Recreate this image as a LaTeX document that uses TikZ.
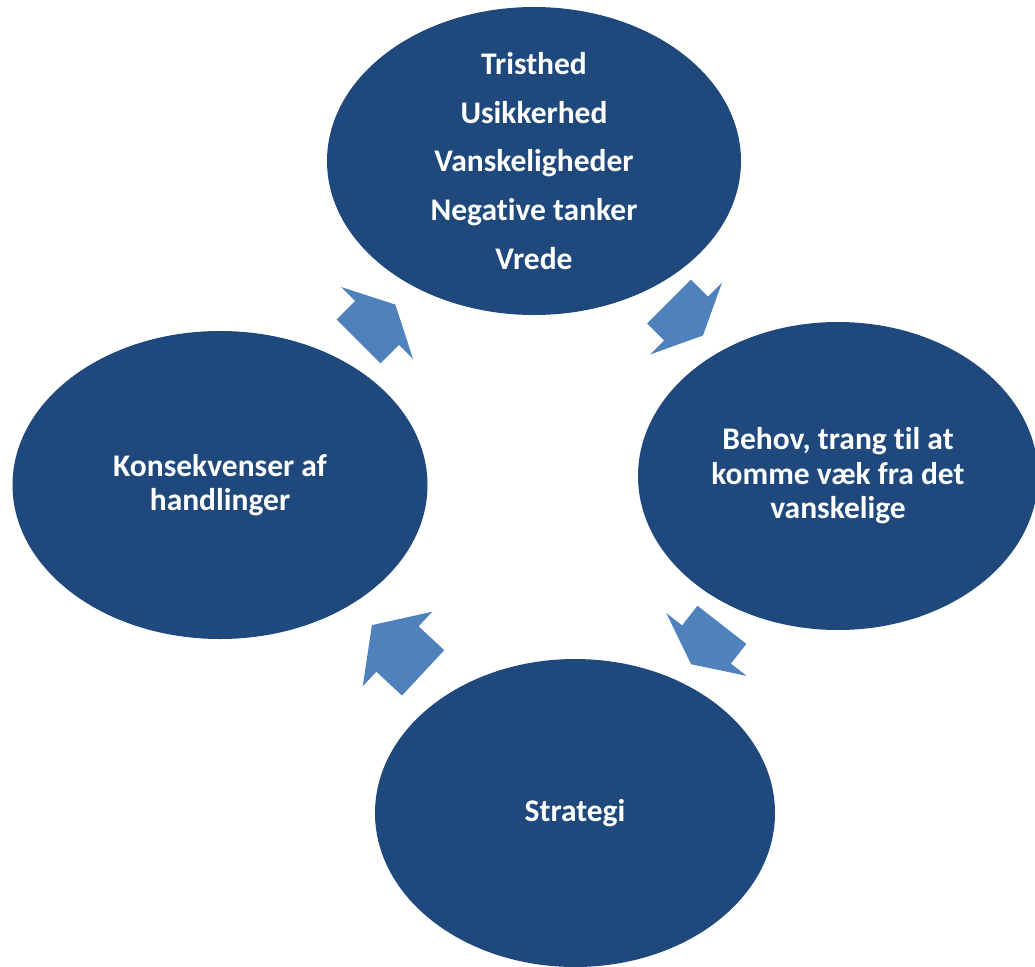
\documentclass[tikz,border=0pt]{standalone}
\usepackage{fontspec}
\setmainfont{Carlito}[Ligatures=NoCommon]
\usetikzlibrary{shapes.geometric,calc}

\definecolor{azuloscuro}{RGB}{31,73,125}
\definecolor{azulclaro}{RGB}{79,129,189}

\tikzset{
	elipse/.style={ellipse, fill=azuloscuro, inner sep=0pt, minimum width=#1, minimum height=308pt},
	texto/.style={text=white, align=center, font=\bfseries\fontsize{31.5}{34.5}\selectfont},
	pics/flecha/.style={code={
		\fill[azulclaro] (-#1,31) -- (0,31) -- (0,51) -- (#1,0) -- (0,-51) -- (0,-31) -- (-#1,-31) -- cycle;
	}}
}

\begin{document}
\begin{tikzpicture}[x=1pt, y=-1pt]
		\useasboundingbox (0,0) rectangle (1035,966);
		\clip (0,0) rectangle (1035,966);

		% Elipses del ciclo ------------------------------------------------------
		\node[elipse=414pt] (tristhed) at (534,161) {};
		\node[elipse=400pt] (behov) at (838,476) {};
		\node[elipse=400pt] (strategi) at (575,813) {};
		\node[elipse=415pt] (konsekvens) at (220,485) {};

		% Textos ---------------------------------------------------------------
		\node[texto, font=\bfseries\fontsize{31.5}{48.7}\selectfont] (t1) at (tristhed) {Tristhed\\Usikkerhed\\Vanskeligheder\\Negative tanker\\Vrede};
		\node[texto] (t2) at (behov) {Behov, trang til at\\komme væk fra det\\vanskelige};
		\node[texto] (t3) at (strategi) {Strategi};
		\node[texto] (t4) at (konsekvens) {Konsekvenser af\\handlinger};

		% Flechas entre elipses --------------------------------------------------
		\pic[rotate=-45] at ($(tristhed)!0.5!(behov)$) {flecha=24}; % arriba -> derecha
		\pic[rotate=-128] at ($(behov)!0.5!(strategi)$) {flecha=25}; % derecha -> abajo
		\pic[rotate=137] at ($(strategi)!0.5!(konsekvens)$) {flecha=35}; % abajo -> izquierda
		\pic[rotate=45] at ($(konsekvens)!0.5!(tristhed)$) {flecha=26}; % izquierda -> arriba
	\end{tikzpicture}
\end{document}
